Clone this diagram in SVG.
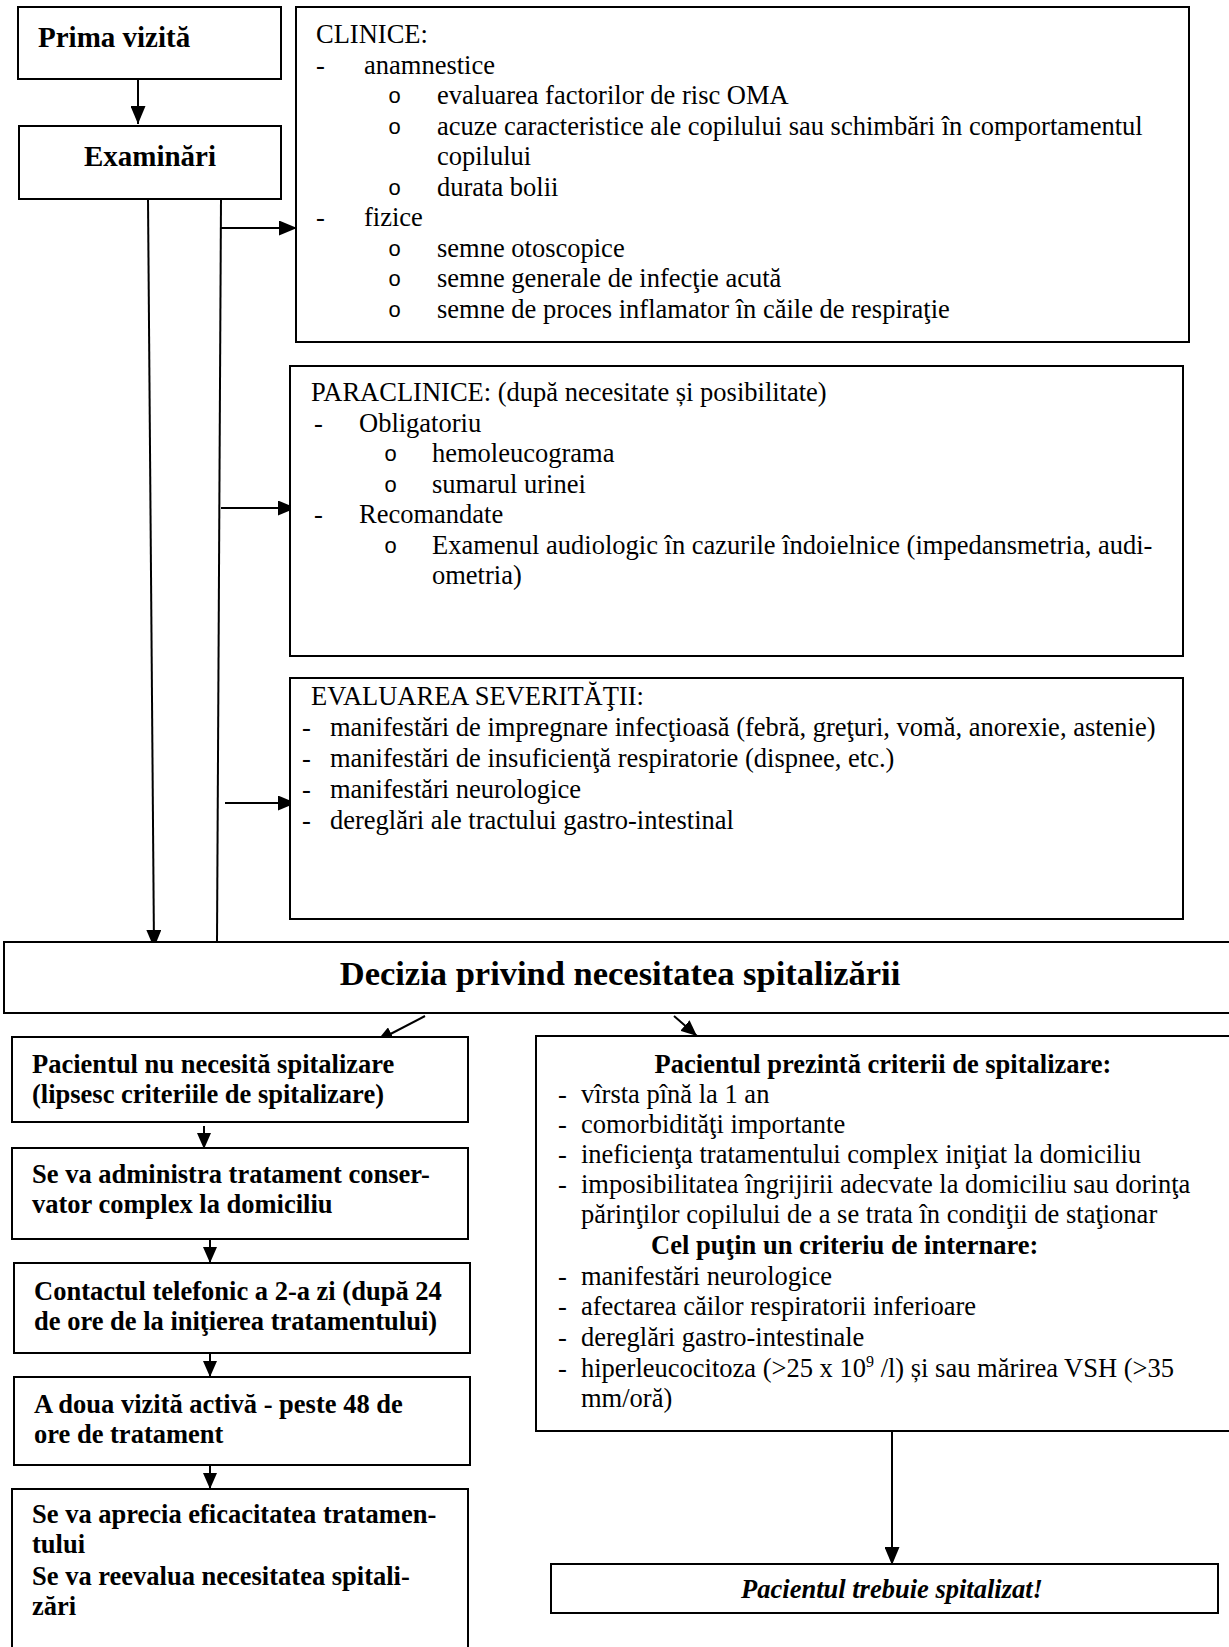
<svg xmlns="http://www.w3.org/2000/svg" width="1229" height="1647" viewBox="0 0 1229 1647">
<defs>
<style>
.bx{fill:#fff;stroke:#000;stroke-width:2}
.t{font-family:"Liberation Serif","Times New Roman",serif;font-size:26.5px;fill:#000}
.b{font-weight:bold}
.bi{font-weight:bold;font-style:italic}
.o{font-family:"Liberation Mono","Courier New",monospace;font-size:22px;fill:#000}
.c{fill:none;stroke:#000;stroke-width:2}
</style>
<marker id="ah" viewBox="0 0 10 10" refX="10" refY="5" markerWidth="18" markerHeight="15" markerUnits="userSpaceOnUse" orient="auto" preserveAspectRatio="none"><path d="M0,0 L10,5 L0,10 z" fill="#000"/></marker>
<marker id="as" viewBox="0 0 10 10" refX="10" refY="5" markerWidth="16" markerHeight="14" markerUnits="userSpaceOnUse" orient="auto" preserveAspectRatio="none"><path d="M0,0 L10,5 L0,10 z" fill="#000"/></marker>
</defs>
<rect width="1229" height="1647" fill="#fff"/>

<g id="connectors">
<line class="c" x1="138" y1="79" x2="138" y2="124" marker-end="url(#ah)"/>
<line class="c" x1="148" y1="199" x2="154" y2="948" marker-end="url(#ah)"/>
<line class="c" x1="221" y1="199" x2="217" y2="943"/>
<line class="c" x1="221" y1="228" x2="297" y2="228" marker-end="url(#ah)"/>
<line class="c" x1="221" y1="508" x2="296" y2="508" marker-end="url(#ah)"/>
<line class="c" x1="225" y1="803" x2="296" y2="803" marker-end="url(#ah)"/>
<line class="c" x1="425" y1="1016" x2="377" y2="1041" marker-end="url(#as)"/>
<line class="c" x1="674" y1="1016" x2="697" y2="1036" marker-end="url(#as)"/>
<line class="c" x1="204" y1="1126" x2="204" y2="1149" marker-end="url(#as)"/>
<line class="c" x1="210" y1="1239" x2="210" y2="1263" marker-end="url(#as)"/>
<line class="c" x1="210" y1="1353" x2="210" y2="1377" marker-end="url(#as)"/>
<line class="c" x1="210" y1="1465" x2="210" y2="1489" marker-end="url(#as)"/>
<line class="c" x1="892" y1="1422" x2="892" y2="1565" marker-end="url(#ah)"/>
</g>

<g id="prima">
<rect class="bx" x="18" y="7" width="263" height="72"/>
<text class="t b" x="38" y="47" style="font-size:29px">Prima vizită</text>
</g>

<g id="examinari">
<rect class="bx" x="19" y="126" width="262" height="73"/>
<text class="t b" x="150" y="166" text-anchor="middle" style="font-size:29px">Examinări</text>
</g>

<g id="clinice">
<rect class="bx" x="296" y="7" width="893" height="335"/>
<text class="t" x="316" y="43">CLINICE:</text>
<text class="t" x="316" y="73.5">-</text><text class="t" x="364" y="73.5">anamnestice</text>
<text class="o" x="388" y="103">o</text><text class="t" x="437" y="104">evaluarea factorilor de risc OMA</text>
<text class="o" x="388" y="133.5">o</text><text class="t" x="437" y="134.5">acuze caracteristice ale copilului sau schimbări în comportamentul</text>
<text class="t" x="437" y="165">copilului</text>
<text class="o" x="388" y="194.5">o</text><text class="t" x="437" y="195.5">durata bolii</text>
<text class="t" x="316" y="226">-</text><text class="t" x="364" y="226">fizice</text>
<text class="o" x="388" y="255.5">o</text><text class="t" x="437" y="256.5">semne otoscopice</text>
<text class="o" x="388" y="286">o</text><text class="t" x="437" y="287">semne generale de infecţie acută</text>
<text class="o" x="388" y="316.5">o</text><text class="t" x="437" y="317.5">semne de proces inflamator în căile de respiraţie</text>
</g>

<g id="paraclinice">
<rect class="bx" x="290" y="366" width="893" height="290"/>
<text class="t" x="311" y="401">PARACLINICE: (după necesitate și posibilitate)</text>
<text class="t" x="314" y="431.5">-</text><text class="t" x="359" y="431.5">Obligatoriu</text>
<text class="o" x="384" y="461">o</text><text class="t" x="432" y="462">hemoleucograma</text>
<text class="o" x="384" y="491.5">o</text><text class="t" x="432" y="492.5">sumarul urinei</text>
<text class="t" x="314" y="523">-</text><text class="t" x="359" y="523">Recomandate</text>
<text class="o" x="384" y="552.5">o</text><text class="t" x="432" y="553.5">Examenul audiologic în cazurile îndoielnice (impedansmetria, audi-</text>
<text class="t" x="432" y="584">ometria)</text>
</g>

<g id="evaluarea">
<rect class="bx" x="290" y="678" width="893" height="241"/>
<text class="t" x="311" y="705">EVALUAREA SEVERITĂŢII:</text>
<text class="t" x="302" y="736">-</text><text class="t" x="330" y="736">manifestări de impregnare infecţioasă (febră, greţuri, vomă, anorexie, astenie)</text>
<text class="t" x="302" y="767">-</text><text class="t" x="330" y="767">manifestări de insuficienţă respiratorie (dispnee, etc.)</text>
<text class="t" x="302" y="798">-</text><text class="t" x="330" y="798">manifestări neurologice</text>
<text class="t" x="302" y="829">-</text><text class="t" x="330" y="829">dereglări ale tractului gastro-intestinal</text>
</g>

<g id="decizia">
<rect class="bx" x="4" y="942" width="1235" height="71"/>
<text class="t b" x="620" y="985" text-anchor="middle" style="font-size:34.5px">Decizia privind necesitatea spitalizării</text>
</g>

<g id="nu-necesita">
<rect class="bx" x="12" y="1037" width="456" height="85"/>
<text class="t b" x="32" y="1073">Pacientul nu necesită spitalizare</text>
<text class="t b" x="32" y="1103">(lipsesc criteriile de spitalizare)</text>
</g>

<g id="tratament">
<rect class="bx" x="12" y="1148" width="456" height="91"/>
<text class="t b" x="32" y="1183">Se va administra tratament conser-</text>
<text class="t b" x="32" y="1213">vator complex la domiciliu</text>
</g>

<g id="contact">
<rect class="bx" x="14" y="1263" width="456" height="90"/>
<text class="t b" x="34" y="1300">Contactul telefonic a 2-a zi (după 24</text>
<text class="t b" x="34" y="1330">de ore de la iniţierea tratamentului)</text>
</g>

<g id="vizita2">
<rect class="bx" x="14" y="1377" width="456" height="88"/>
<text class="t b" x="34" y="1413">A doua vizită activă - peste 48 de</text>
<text class="t b" x="34" y="1443">ore de tratament</text>
</g>

<g id="apreciere">
<rect class="bx" x="12" y="1489" width="456" height="180"/>
<text class="t b" x="32" y="1523">Se va aprecia eficacitatea tratamen-</text>
<text class="t b" x="32" y="1553">tului</text>
<text class="t b" x="32" y="1585">Se va reevalua necesitatea spitali-</text>
<text class="t b" x="32" y="1615">zări</text>
</g>

<g id="criterii">
<rect class="bx" x="536" y="1036" width="700" height="395"/>
<text class="t b" x="883" y="1073" text-anchor="middle">Pacientul prezintă criterii de spitalizare:</text>
<text class="t" x="558" y="1103">-</text><text class="t" x="581" y="1103">vîrsta pînă la 1 an</text>
<text class="t" x="558" y="1133">-</text><text class="t" x="581" y="1133">comorbidităţi importante</text>
<text class="t" x="558" y="1163">-</text><text class="t" x="581" y="1163">ineficienţa tratamentului complex iniţiat la domiciliu</text>
<text class="t" x="558" y="1193">-</text><text class="t" x="581" y="1193">imposibilitatea îngrijirii adecvate la domiciliu sau dorinţa</text>
<text class="t" x="581" y="1223">părinţilor copilului de a se trata în condiţii de staţionar</text>
<text class="t b" x="651" y="1254">Cel puţin un criteriu de internare:</text>
<text class="t" x="558" y="1285">-</text><text class="t" x="581" y="1285">manifestări neurologice</text>
<text class="t" x="558" y="1315">-</text><text class="t" x="581" y="1315">afectarea căilor respiratorii inferioare</text>
<text class="t" x="558" y="1346">-</text><text class="t" x="581" y="1346">dereglări gastro-intestinale</text>
<text class="t" x="558" y="1377">-</text><text class="t" x="581" y="1377">hiperleucocitoza (&gt;25 x 10<tspan dy="-10" style="font-size:16px">9</tspan><tspan dy="10"> /l) și sau mărirea VSH (&gt;35</tspan></text>
<text class="t" x="581" y="1407">mm/oră)</text>
</g>

<g id="spitalizat">
<rect class="bx" x="551" y="1564" width="667" height="49"/>
<text class="t bi" x="892" y="1598" text-anchor="middle">Pacientul trebuie spitalizat!</text>
</g>
</svg>
